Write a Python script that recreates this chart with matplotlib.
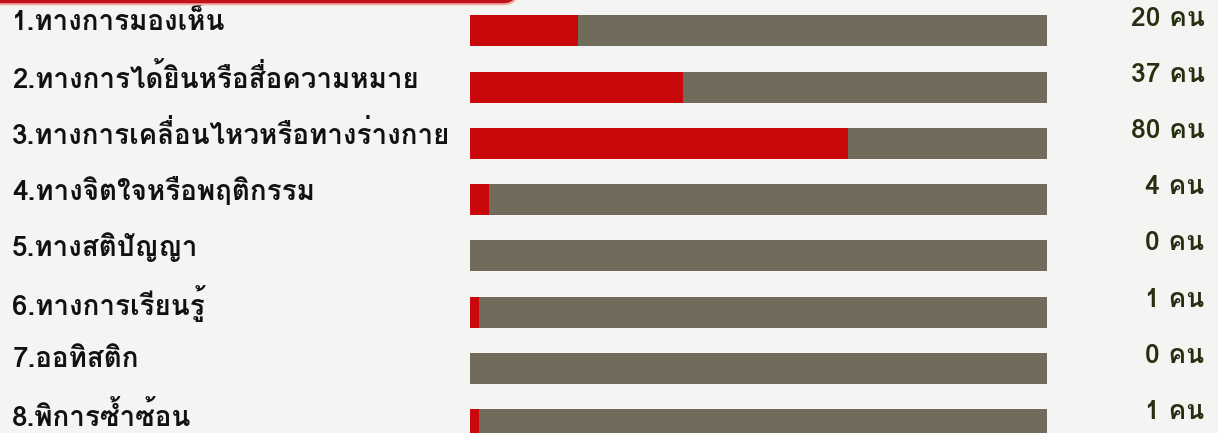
import matplotlib
matplotlib.use("Agg")
import matplotlib.pyplot as plt
from matplotlib import font_manager
from matplotlib.ft2font import FT2Font
from matplotlib.patches import FancyBboxPatch

categories = [
    "1.ทางการมองเห็น",
    "2.ทางการได้ยินหรือสื่อความหมาย",
    "3.ทางการเคลื่อนไหวหรือทางร่างกาย",
    "4.ทางจิตใจหรือพฤติกรรม",
    "5.ทางสติปัญญา",
    "6.ทางการเรียนรู้",
    "7.ออทิสติก",
    "8.พิการซ้ำซ้อน",
]
counts = [20, 37, 80, 4, 0, 1, 0, 1]
# red part of each bar, percent of the full grey track
fill_pct = [18.7, 36.8, 65.5, 3.3, 0, 1.6, 0, 1.6]
track = [100] * 8

# look for an installed font that has Thai glyphs
thai_fonts = []
for f in font_manager.fontManager.ttflist:
    try:
        if 0x0E17 in FT2Font(f.fname).get_charmap():
            if f.name not in thai_fonts:
                thai_fonts.append(f.name)
    except Exception:
        pass
families = thai_fonts + ["DejaVu Sans"]

fig = plt.figure(figsize=(12.18, 4.33), dpi=100)
fig.patch.set_facecolor("#f4f4f2")
ax = fig.add_axes([0, 0, 1, 1])
ax.set_facecolor("#f4f4f2")

y = list(range(len(categories)))
ax.barh(y, track, height=0.55, color="#706b5a", left=0)
ax.barh(y, fill_pct, height=0.55, color="#c9080c", left=0)

ax.set_xlim(-81.5, 129.6)
ax.set_ylim(7.15, -0.55)
ax.axis("off")

for i, (cat, n) in enumerate(zip(categories, counts)):
    ax.text(0.01, i - 0.16, cat, transform=ax.get_yaxis_transform(), ha="left",
            va="center", fontsize=20, fontweight="bold", color="#111111",
            family=families)
    ax.text(0.989, i - 0.22, f"{n} คน", transform=ax.get_yaxis_transform(),
            ha="right", va="center", fontsize=19, fontweight="bold",
            color="#263010", family=families)

# red title band cut off at the top edge
band = FancyBboxPatch((-0.02, 0.99), 0.445, 0.05, boxstyle="round,pad=0,rounding_size=0.012",
                      transform=fig.transFigure, facecolor="#c0141a",
                      edgecolor="#f0b0a8", linewidth=1.5, mutation_aspect=2.8)
fig.patches.append(band)

fig.savefig("out.png", dpi=100, facecolor=fig.get_facecolor())
